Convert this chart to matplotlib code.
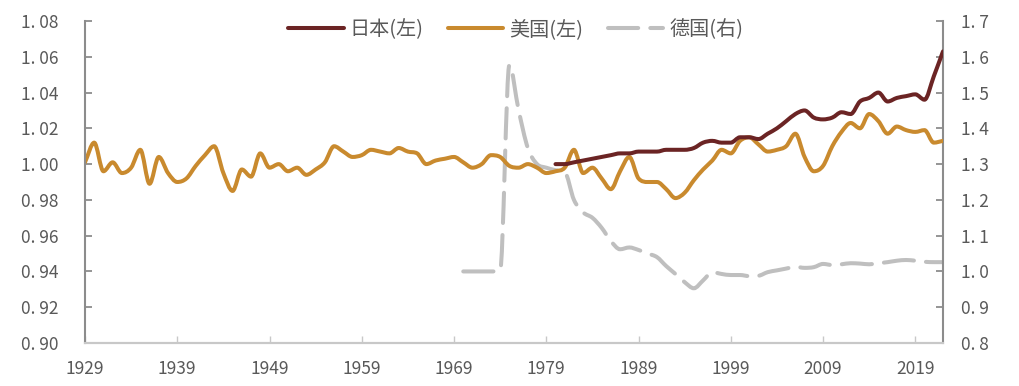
import numpy as np
import matplotlib
matplotlib.use("Agg")
import matplotlib.pyplot as plt
from matplotlib.ticker import FuncFormatter
from matplotlib.path import Path
from matplotlib.patches import PathPatch
from matplotlib.lines import Line2D

plt.rcParams['font.family'] = ['Noto Sans CJK SC', 'DejaVu Sans']

# data
us_years = list(range(1929, 2023))
us_vals = [1.001, 1.012, 0.996, 1.001, 0.995, 0.998, 1.008, 0.989, 1.004, 0.995,
           0.990, 0.992, 0.999, 1.005, 1.010, 0.995, 0.985, 0.997, 0.993, 1.006,
           0.998, 1.000, 0.996, 0.998, 0.994, 0.997, 1.001, 1.010, 1.007, 1.004,
           1.005, 1.008, 1.007, 1.006, 1.009, 1.007, 1.006, 1.000, 1.002, 1.003,
           1.004, 1.001, 0.998, 1.000, 1.005, 1.004, 0.999, 0.998, 1.000, 0.998,
           0.995, 0.996, 0.998, 1.008, 0.995, 0.998, 0.992, 0.986, 0.996, 1.004,
           0.992, 0.990, 0.990, 0.986, 0.981, 0.984, 0.991, 0.997, 1.002, 1.008,
           1.006, 1.013, 1.015, 1.011, 1.007, 1.008, 1.010, 1.017, 1.004, 0.996,
           0.999, 1.010, 1.018, 1.023, 1.020, 1.028, 1.024, 1.017, 1.021, 1.019,
           1.018, 1.019, 1.012, 1.013]

jp_years = list(range(1980, 2023))
jp_vals = [1.000, 1.000, 1.001, 1.002, 1.003, 1.004, 1.005, 1.006, 1.006, 1.007,
           1.007, 1.007, 1.008, 1.008, 1.008, 1.009, 1.012, 1.013, 1.012, 1.012,
           1.015, 1.015, 1.014, 1.017, 1.020, 1.024, 1.028, 1.030, 1.026, 1.025,
           1.026, 1.029, 1.028, 1.035, 1.037, 1.040, 1.035, 1.037, 1.038, 1.039,
           1.036, 1.049, 1.063]

de_years = list(range(1970, 2023))
de_vals = [1.000, 1.000, 1.000, 1.000, 1.003, 1.577, 1.451, 1.345, 1.300, 1.290,
           1.283, 1.278, 1.200, 1.165, 1.150, 1.122, 1.085, 1.062, 1.067, 1.060,
           1.050, 1.040, 1.015, 0.993, 0.970, 0.953, 0.975, 0.998, 0.993, 0.990,
           0.990, 0.987, 0.988, 0.998, 1.003, 1.008, 1.013, 1.010, 1.012, 1.021,
           1.018, 1.020, 1.023, 1.022, 1.020, 1.023, 1.026, 1.030, 1.032, 1.030,
           1.027, 1.026, 1.026]

xtick_years = list(range(1929, 2020, 10))
left_ticks = [0.90, 0.92, 0.94, 0.96, 0.98, 1.00, 1.02, 1.04, 1.06, 1.08]
right_ticks = [0.8, 0.9, 1.0, 1.1, 1.2, 1.3, 1.4, 1.5, 1.6, 1.7]
labels = ['日本(左)', '美国(左)', '德国(右)']

c_jp = '#6B2424'
c_us = '#C98A2E'
c_de = '#BFBFBF'
txt = '#595959'
spine_c = '#8C8C8C'
lw = 2.9
de_dash = (0, (7.5, 3))


def smooth_path(xs, ys):
    # smoothed line through the points, cubic Hermite with limited slopes
    x = np.asarray(xs, float)
    y = np.asarray(ys, float)
    n = len(x)
    d = np.diff(y) / np.diff(x)
    m = np.zeros(n)
    m[0], m[-1] = d[0], d[-1]
    for i in range(1, n - 1):
        if d[i - 1] * d[i] <= 0:
            m[i] = 0.0
        else:
            m[i] = (d[i - 1] + d[i]) / 2
            lim = 3 * min(abs(d[i - 1]), abs(d[i]))
            m[i] = np.sign(m[i]) * min(abs(m[i]), lim)
    verts = [(x[0], y[0])]
    codes = [Path.MOVETO]
    for i in range(n - 1):
        h = x[i + 1] - x[i]
        verts += [(x[i] + h / 3, y[i] + m[i] * h / 3),
                  (x[i + 1] - h / 3, y[i + 1] - m[i + 1] * h / 3),
                  (x[i + 1], y[i + 1])]
        codes += [Path.CURVE4] * 3
    return Path(verts, codes)


fig = plt.figure(figsize=(10.19, 3.86), dpi=100)
ax = fig.add_axes([0.0834, 0.1114, 0.842, 0.8342])
ax2 = ax.twinx()

ax2.add_patch(PathPatch(smooth_path(de_years, de_vals), fill=False, edgecolor=c_de,
                        lw=lw, linestyle=de_dash, capstyle='round', zorder=1))
ax.add_patch(PathPatch(smooth_path(us_years, us_vals), fill=False, edgecolor=c_us,
                       lw=lw, capstyle='round', joinstyle='round', zorder=2))
ax.add_patch(PathPatch(smooth_path(jp_years, jp_vals), fill=False, edgecolor=c_jp,
                       lw=lw, capstyle='round', joinstyle='round', zorder=3))
ax.set_zorder(ax2.get_zorder() + 1)
ax.patch.set_visible(False)

ax.set_xlim(1929, 2022)
ax.set_ylim(0.90, 1.08)
ax2.set_ylim(0.8, 1.7)
ax.set_yticks(left_ticks)
ax2.set_yticks(right_ticks)
ax.set_xticks(xtick_years)

ax.yaxis.set_major_formatter(FuncFormatter(lambda v, p: f"{v:.2f}".replace('.', '. ')))
ax2.yaxis.set_major_formatter(FuncFormatter(lambda v, p: f"{v:.1f}".replace('.', '. ')))

for a in (ax, ax2):
    a.spines['top'].set_visible(False)
    a.spines['left'].set_color(spine_c)
    a.spines['right'].set_color(spine_c)
    a.spines['bottom'].set_color('#C8C8C8')
    for s in ('left', 'right', 'bottom'):
        a.spines[s].set_linewidth(1.5)
ax.tick_params(axis='y', direction='in', length=5, width=1.3, color=spine_c,
               labelsize=12.5, labelcolor=txt, pad=19)
ax2.tick_params(axis='y', direction='in', length=5, width=1.3, color=spine_c,
                labelsize=12.5, labelcolor=txt, pad=13)
ax.tick_params(axis='x', direction='in', length=5, width=1, color='#C8C8C8',
               labelsize=12.5, labelcolor=txt, pad=12)
ax2.spines['left'].set_visible(False)
ax.spines['right'].set_visible(False)

handles = [Line2D([], [], color=c_jp, lw=lw, solid_capstyle='round'),
           Line2D([], [], color=c_us, lw=lw, solid_capstyle='round'),
           Line2D([], [], color=c_de, lw=lw, linestyle=de_dash, dash_capstyle='round')]
ax.legend(handles, labels, loc='center', bbox_to_anchor=(0.502, 0.972), ncol=3,
          frameon=False, fontsize=14.5, labelcolor=txt, handlelength=2.75,
          handletextpad=0.3, columnspacing=1.2)

fig.savefig('out.png', dpi=100)
